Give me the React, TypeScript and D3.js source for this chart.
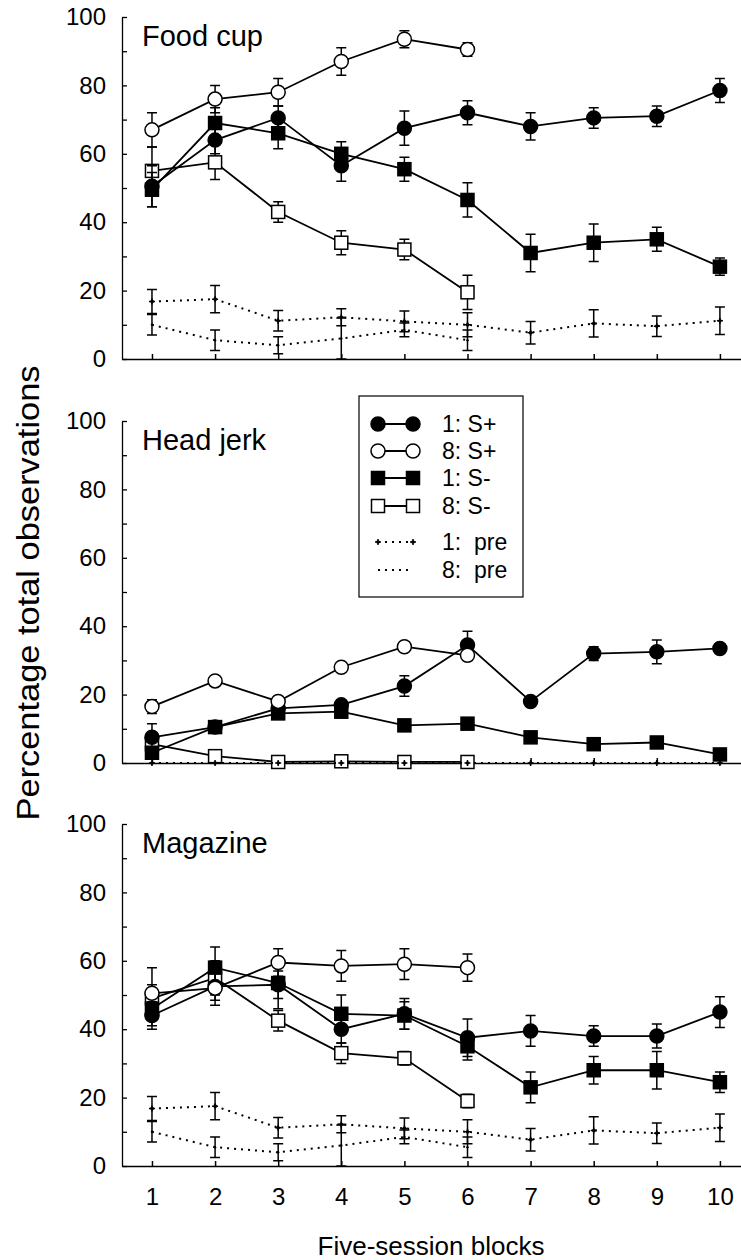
import * as d3 from "d3";
import { useEffect, useRef } from "react";

// five-session blocks
const blocks = [1, 2, 3, 4, 5, 6, 7, 8, 9, 10];
const blocksShort = [1, 2, 3, 4, 5, 6];

// Food cup
const foodS1Plus = [50.5, 64, 70.5, 56.5, 67.5, 72, 68, 70.5, 71, 78.5];
const foodS1PlusErr = [6, 4, 3.5, 4.5, 5, 3.5, 4, 3, 3, 3.5];
const foodS8Plus = [67, 76, 78, 87, 93.5, 90.5];
const foodS8PlusErr = [5, 4, 4, 4, 2.5, 2];
const foodS1Minus = [49.5, 69, 66, 60, 55.5, 46.5, 31, 34, 35, 27];
const foodS1MinusErr = [5, 4.5, 4.5, 3.5, 3.5, 5, 5.5, 5.5, 3.5, 2.5];
const foodS8Minus = [55, 57.5, 43, 34, 32, 19.5];
const foodS8MinusErr = [7, 5, 3, 3.5, 3, 5];
const foodPre1 = [16.8, 17.5, 11.2, 12.2, 11, 10, 7.7, 10.4, 9.6, 11.2];
const foodPre1Err = [3.5, 4, 3, 2.5, 3, 3.5, 3.3, 4, 3, 4];
const foodPre8 = [10, 5.5, 4, 6, 8.5, 5.5];
const foodPre8Err = [3, 3, 2.5, 6, 2, 3];

// Head jerk
const headS1Plus = [7.5, 10.5, 16, 17, 22.5, 34.5, 18, 32, 32.5, 33.5];
const headS1PlusErr = [4, 1, 1, 1.5, 3, 4, 1, 2, 3.5, 1];
const headS8Plus = [16.5, 24, 18, 28, 34, 31.5];
const headS8PlusErr = [2, 1.5, 1.5, 1, 1, 1.5];
const headS1Minus = [3, 10.5, 14.5, 15, 11, 11.5, 7.5, 5.5, 6, 2.5];
const headS1MinusErr = [1, 1, 1, 1, 1, 1, 1, 1, 1, 1];
const headS8Minus = [5.5, 2, 0.3, 0.5, 0.3, 0.3];
const headS8MinusErr = [2, 1, 0.5, 0.5, 0.5, 0.5];
const headPre1 = [0, 0, 0, 0, 0, 0, 0, 0, 0, 0];
const headPre1Err = [0, 0, 0, 0, 0, 0, 0, 0, 0, 0];
const headPre8 = [0, 0, 0, 0, 0, 0];
const headPre8Err = [0, 0, 0, 0, 0, 0];

// Magazine
const magS1Plus = [44, 52.5, 53, 40, 44.5, 37.5, 39.5, 38, 38, 45];
const magS1PlusErr = [4, 4, 4, 4, 4.5, 5.5, 4.5, 3, 3.5, 4.5];
const magS8Plus = [50.5, 52, 59.5, 58.5, 59, 58];
const magS8PlusErr = [7.5, 5, 4, 4.5, 4.5, 4];
const magS1Minus = [46, 58, 53.5, 44.5, 44, 35, 23, 28, 28, 24.5];
const magS1MinusErr = [5, 6, 7.5, 5.5, 4, 4, 4.5, 4, 5.5, 3];
const magS8Minus = [49, 55, 42.5, 33, 31.5, 19];
const magS8MinusErr = [4, 5, 3, 3, 2, 2];
const magPre1 = [16.8, 17.5, 11.2, 12.2, 11, 10, 7.7, 10.4, 9.6, 11.2];
const magPre1Err = [3.5, 4, 3, 2.5, 3, 3.5, 3.3, 4, 3, 4];
const magPre8 = [10, 5.5, 4, 6, 8.5, 5.5];
const magPre8Err = [3, 3, 2.5, 6, 2, 3];

const legendLabels = ["1: S+", "8: S+", "1: S-", "8: S-", "1:  pre", "8:  pre"];
const yTicks = [0, 10, 20, 30, 40, 50, 60, 70, 80, 90, 100];

const FONT = "'Liberation Sans', Arial, Helvetica, sans-serif";

// pre-серии рисуем последними, их "+" лежат поверх квадратов
const makeSeries = (s1p, s1pe, s8p, s8pe, s1m, s1me, s8m, s8me, p1, p1e, p8, p8e) => [
  { key: "s8m", sym: "openSquare", dash: false, xs: blocksShort, v: s8m, e: s8me },
  { key: "s1m", sym: "square", dash: false, xs: blocks, v: s1m, e: s1me },
  { key: "s1p", sym: "circle", dash: false, xs: blocks, v: s1p, e: s1pe },
  { key: "s8p", sym: "openCircle", dash: false, xs: blocksShort, v: s8p, e: s8pe },
  { key: "pre8", sym: "none", dash: true, xs: blocksShort, v: p8, e: p8e },
  { key: "pre1", sym: "plus", dash: true, xs: blocks, v: p1, e: p1e },
];

const panels = [
  {
    title: "Food cup", top: 17,
    series: makeSeries(foodS1Plus, foodS1PlusErr, foodS8Plus, foodS8PlusErr, foodS1Minus, foodS1MinusErr,
      foodS8Minus, foodS8MinusErr, foodPre1, foodPre1Err, foodPre8, foodPre8Err),
  },
  {
    title: "Head jerk", top: 421,
    series: makeSeries(headS1Plus, headS1PlusErr, headS8Plus, headS8PlusErr, headS1Minus, headS1MinusErr,
      headS8Minus, headS8MinusErr, headPre1, headPre1Err, headPre8, headPre8Err),
  },
  {
    title: "Magazine", top: 824,
    series: makeSeries(magS1Plus, magS1PlusErr, magS8Plus, magS8PlusErr, magS1Minus, magS1MinusErr,
      magS8Minus, magS8MinusErr, magPre1, magPre1Err, magPre8, magPre8Err),
  },
];

const drawSymbol = (g, sym, cx, cy) => {
  if (sym === "circle" || sym === "openCircle") {
    g.append("circle").attr("cx", cx).attr("cy", cy).attr("r", 7)
      .attr("fill", sym === "circle" ? "#000" : "#fff")
      .attr("stroke", "#000").attr("stroke-width", 1.5);
  } else if (sym === "square" || sym === "openSquare") {
    g.append("rect").attr("x", cx - 6.5).attr("y", cy - 6.5).attr("width", 13).attr("height", 13)
      .attr("fill", sym === "square" ? "#000" : "#fff")
      .attr("stroke", "#000").attr("stroke-width", 1.5);
  } else if (sym === "plus") {
    g.append("path").attr("d", `M${cx - 3},${cy}H${cx + 3}M${cx},${cy - 3}V${cy + 3}`)
      .attr("stroke", "#000").attr("stroke-width", 1.5);
    g.append("circle").attr("cx", cx).attr("cy", cy).attr("r", 1.8).attr("fill", "#000");
  } else {
    g.append("circle").attr("cx", cx).attr("cy", cy).attr("r", 1.2).attr("fill", "#000");
  }
};

const App = () => {
  const ref = useRef(null);

  useEffect(() => {
    const svg = d3.select(ref.current);
    svg.selectAll("*").remove();

    const x = d3.scaleLinear().domain([0.525, 10.35]).range([122, 742]);

    panels.forEach((p, pi) => {
      const y = d3.scaleLinear().domain([0, 100]).range([p.top + 342, p.top]);
      const g = svg.append("g");

      // Ось Y
      const yAxis = d3.axisLeft(y).tickValues(yTicks).tickSize(-5).tickSizeOuter(0).tickPadding(16)
        .tickFormat((d) => (d % 20 === 0 ? String(d) : ""));
      const ya = g.append("g").attr("transform", `translate(${x.range()[0]},0)`).call(yAxis);
      ya.selectAll("text").style("font-size", "24px").style("font-family", FONT).attr("fill", "#000");
      ya.selectAll("line, path").attr("stroke", "#000").attr("stroke-width", 1.3);

      // Ось X
      const xAxis = d3.axisBottom(x).tickValues(blocks).tickSize(-5).tickSizeOuter(0).tickPadding(22)
        .tickFormat((d) => (pi === panels.length - 1 ? String(d) : ""));
      const xa = g.append("g").attr("transform", `translate(0,${y(0)})`).call(xAxis);
      xa.selectAll("text").style("font-size", "24px").style("font-family", FONT).attr("fill", "#000");
      xa.selectAll("line, path").attr("stroke", "#000").attr("stroke-width", 1.5);

      g.append("text").attr("x", 142).attr("y", p.top + 29).text(p.title)
        .style("font-size", "29px").style("font-family", FONT);

      const line = d3.line().x((d) => x(d[0])).y((d) => y(d[1]));

      p.series.forEach((s) => {
        const pts = s.xs.map((b, i) => [b, s.v[i], s.e[i]]);
        g.append("path").attr("d", line(pts)).attr("fill", "none").attr("stroke", "#000")
          .attr("stroke-width", s.dash ? 2 : 1.8)
          .attr("stroke-dasharray", s.dash ? "2,5" : null);
        pts.forEach(([b, v, e]) => {
          if (e > 0) {
            const cx = x(b);
            const y0 = y(Math.max(0, v - e));
            const y1 = y(v + e);
            g.append("path")
              .attr("d", `M${cx},${y0}V${y1}M${cx - 5},${y0}H${cx + 5}M${cx - 5},${y1}H${cx + 5}`)
              .attr("stroke", "#000").attr("stroke-width", 1.5).attr("fill", "none");
          }
        });
        pts.forEach(([b, v]) => drawSymbol(g, s.sym, x(b), y(v)));
      });
    });

    // Легенда
    const lg = svg.append("g");
    lg.append("rect").attr("x", 359).attr("y", 396).attr("width", 164).attr("height", 201)
      .attr("fill", "#fff").attr("stroke", "#000").attr("stroke-width", 1.2);
    const legendSyms = ["circle", "openCircle", "square", "openSquare", "plus", "none"];
    const rowsY = [424, 451, 478, 506, 542, 570];
    legendLabels.forEach((lab, i) => {
      const ry = rowsY[i];
      const dashed = i >= 4;
      lg.append("line").attr("x1", 378).attr("x2", 413).attr("y1", ry).attr("y2", ry)
        .attr("stroke", "#000").attr("stroke-width", dashed ? 2 : 1.8)
        .attr("stroke-dasharray", dashed ? "2,5" : null);
      if (legendSyms[i] !== "none") {
        drawSymbol(lg, legendSyms[i], 378, ry);
        drawSymbol(lg, legendSyms[i], 413, ry);
      }
      lg.append("text").attr("x", 442).attr("y", ry + 8).text(lab)
        .style("font-size", "23px").style("font-family", FONT).style("white-space", "pre");
    });

    // Подписи осей
    svg.append("text").attr("transform", "translate(39,593) rotate(-90)").attr("text-anchor", "middle")
      .attr("textLength", 455).attr("lengthAdjust", "spacingAndGlyphs")
      .text("Percentage total observations").style("font-size", "31px").style("font-family", FONT);
    svg.append("text").attr("x", 431).attr("y", 1255).attr("text-anchor", "middle")
      .text("Five-session blocks").style("font-size", "26px").style("font-family", FONT);
  }, []);

  return (
    <svg
      ref={ref}
      width={741}
      height={1260}
      style={{ position: "absolute", left: 0, top: 0, background: "#fff" }}
    ></svg>
  );
};

export default App;
